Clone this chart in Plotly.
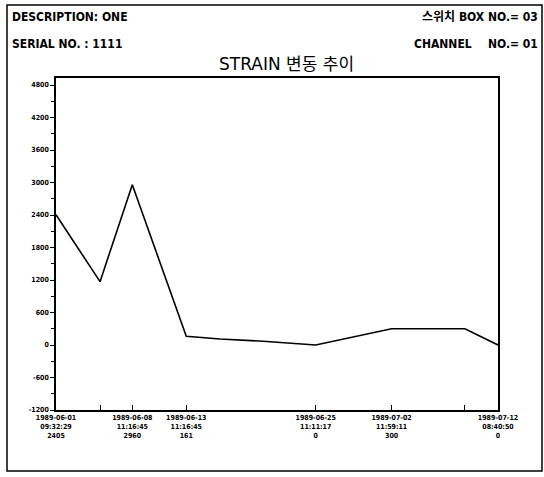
import plotly.graph_objects as go

# ---- data ----
dates = ["1989-06-01 09:32:29", "1989-06-05 11:30:00", "1989-06-08 11:16:45",
         "1989-06-13 11:16:45", "1989-06-16 14:00:00", "1989-06-20 14:00:00",
         "1989-06-25 11:11:17", "1989-07-02 11:59:11", "1989-07-09 07:00:00",
         "1989-07-12 08:40:50"]
strain = [2405, 1170, 2960, 161, 110, 70, 0, 300, 300, 0]

labeled_dates = ["1989-06-01 09:32:29", "1989-06-08 11:16:45", "1989-06-13 11:16:45",
                 "1989-06-25 11:11:17", "1989-07-02 11:59:11", "1989-07-12 08:40:50"]
labeled_values = ["2405", "2960", "161", "0", "300", "0"]
unlabeled_dates = ["1989-06-05 11:30:00", "1989-07-09 07:00:00"]

y_ticks = [-1200, -600, 0, 600, 1200, 1800, 2400, 3000, 3600, 4200, 4800]

title_text = "STRAIN 변동 추이"
desc_text = "DESCRIPTION: ONE"
serial_text = "SERIAL NO. : 1111"
box_text = "스위치 BOX NO.= 03"
channel_text = "CHANNEL"
channel_no_text = "NO.= 01"

# ---- figure ----
W, H = 544, 477
L, R, T, B = 56, 498, 78, 410

def px(x):
    return (x - L) / (R - L)

def py(y):
    return (B - y) / (B - T)

FONT = "DejaVu Sans Condensed, Noto Sans CJK KR, sans-serif"

fig = go.Figure()
fig.add_trace(go.Scatter(x=dates, y=strain, mode="lines",
                         line=dict(color="black", width=1.6),
                         showlegend=False, hoverinfo="skip"))

tickvals = labeled_dates + unlabeled_dates
ticktext = []
for d, v in zip(labeled_dates, labeled_values):
    dd, tt = d.split(" ")
    ticktext.append(f"{dd}<br>{tt}<br>{v}")
ticktext += ["", ""]

fig.update_xaxes(
    type="date",
    range=[dates[0], dates[-1]],
    tickmode="array", tickvals=tickvals, ticktext=ticktext,
    ticks="inside", ticklen=5, tickcolor="black", tickwidth=1.2,
    showline=True, linecolor="black", linewidth=1.5, mirror=True,
    showgrid=False, zeroline=False,
    tickfont=dict(family="DejaVu Sans Condensed", size=7, color="black", weight="bold"),
)
fig.update_yaxes(
    range=[-1200, 4930],
    tickmode="array", tickvals=y_ticks,
    ticktext=[str(v) for v in y_ticks],
    ticks="outside", ticklen=4, tickcolor="black", tickwidth=1.2,
    minor=dict(dtick=300, ticks="outside", ticklen=3, tickcolor="black", showgrid=False, tick0=-1200),
    showline=True, linecolor="black", linewidth=1.5, mirror=True,
    showgrid=False, zeroline=False,
    tickfont=dict(family="DejaVu Sans Condensed", size=7, color="black", weight="bold"),
)

ann = []
hdr = dict(family=FONT, size=12, color="black", weight="bold")
ann.append(dict(text=desc_text, x=px(10), y=py(17), xanchor="left", yanchor="middle", font=hdr))
ann.append(dict(text=serial_text, x=px(10), y=py(44), xanchor="left", yanchor="middle", font=hdr))
ann.append(dict(text=box_text, x=px(540), y=py(17), xanchor="right", yanchor="middle", font=hdr))
ann.append(dict(text=channel_text, x=px(412), y=py(44), xanchor="left", yanchor="middle", font=hdr))
ann.append(dict(text=channel_no_text, x=px(540), y=py(44), xanchor="right", yanchor="middle", font=hdr))
ann.append(dict(text=title_text, x=px(286), y=py(64), xanchor="center", yanchor="middle",
                font=dict(family="DejaVu Sans, Noto Sans CJK KR, sans-serif", size=17, color="black")))
for a in ann:
    a.update(xref="paper", yref="paper", showarrow=False)

fig.update_layout(
    width=W, height=H,
    margin=dict(l=L, r=W - R, t=T, b=H - B, pad=0),
    paper_bgcolor="white", plot_bgcolor="white",
    annotations=ann,
    shapes=[dict(type="rect", xref="paper", yref="paper",
                 x0=px(7), x1=px(542), y0=py(471), y1=py(5),
                 line=dict(color="black", width=1.5))],
)

fig.write_html("out.html", config={"displayModeBar": False},
               post_script="document.body.style.margin='0';document.body.style.overflow='hidden';")
